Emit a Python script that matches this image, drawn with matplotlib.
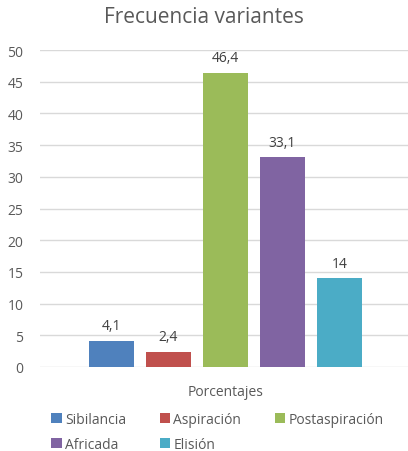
import matplotlib.pyplot as plt
import numpy as np

plt.rcParams['font.family'] = ['Open Sans', 'DejaVu Sans']

series = ["Sibilancia", "Aspiración", "Postaspiración", "Africada", "Elisión"]
values = [4.1, 2.4, 46.4, 33.1, 14]
labels = ["4,1", "2,4", "46,4", "33,1", "14"]
colors = ["#4F81BD", "#C0504D", "#9BBB59", "#8064A2", "#4BACC6"]
category = "Porcentajes"

txt = "#595959"

fig = plt.figure(figsize=(4.08, 4.52), dpi=100)
ax = fig.add_axes([0.098, 0.186, 0.902, 0.701])

x = np.arange(len(series))
bars = []
for i, name in enumerate(series):
    b = ax.bar(x[i], values[i], width=0.79, color=colors[i], label=name, zorder=3)
    bars.append(b)
    ax.text(x[i], values[i] + 1.2, labels[i], ha="center", va="bottom",
            fontsize=10, color="#404040")

ax.set_xlim(-1.254, 5.202)
ax.set_ylim(0, 50)
ax.set_yticks(range(0, 51, 5))
ax.yaxis.grid(True, color="#D9D9D9", linewidth=1, zorder=0)
ax.set_xticks([2])
ax.set_xticklabels([category])
ax.tick_params(axis="both", length=0, colors=txt, labelsize=10)
ax.tick_params(axis="x", pad=12)
ax.tick_params(axis="y", pad=12)
for s in ax.spines.values():
    s.set_visible(False)

fig.suptitle("Frecuencia variantes", x=0.5, y=0.985, fontsize=15, color=txt)

# row-wise legend order for 3 columns
order = [0, 3, 1, 4, 2]
fig.legend(handles=[bars[i][0] for i in order], labels=[series[i] for i in order],
           loc="lower left", bbox_to_anchor=(0.095, -0.03), ncol=3, frameon=False,
           fontsize=10, labelcolor=txt, handlelength=0.75, handleheight=0.75,
           handletextpad=0.25, columnspacing=2.4, labelspacing=0.75)

fig.savefig("out.png", dpi=100)
